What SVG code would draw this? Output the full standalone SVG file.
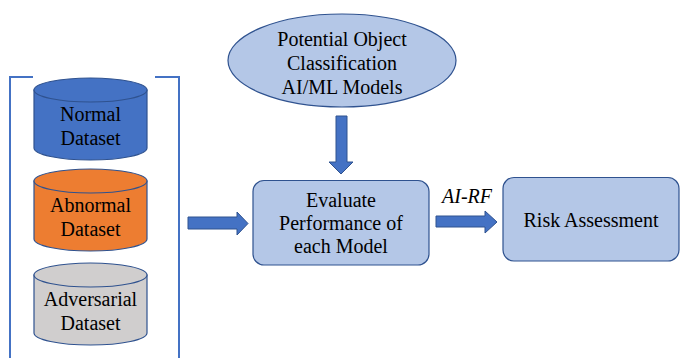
<svg xmlns="http://www.w3.org/2000/svg" width="683" height="358" viewBox="0 0 683 358">
<style>
text{font-family:'Liberation Serif','Times New Roman','DejaVu Serif',serif;font-size:20px;fill:#000;text-anchor:middle}
.ln{fill:#B4C7E7;stroke:#2F528F;stroke-width:1.2}
.arr{fill:#4472C4;stroke:#2F528F;stroke-width:1}
.cyl{stroke:#2F528F;stroke-width:1.2}
.br{fill:none;stroke:#4472C4;stroke-width:2}
</style>
<rect width="683" height="358" fill="#fff"/>
<g id="bracket">
<path class="br" d="M33,77 L10,77 L10,360"/>
<path class="br" d="M155,77 L179,77 L179,360"/>
</g>
<g id="normal">
<path class="cyl" fill="#4472C4" d="M34,90 L34,148 A56.5,12 0 0 0 147,148 L147,90 Z"/>
<ellipse class="cyl" fill="#4472C4" cx="90.5" cy="90" rx="56.5" ry="12"/>
<text x="90.5" y="121" font-family="Liberation Serif, serif">Normal</text>
<text x="90.5" y="145" font-family="Liberation Serif, serif">Dataset</text>
</g>
<g id="abnormal">
<path class="cyl" fill="#ED7D31" d="M34,181 L34,239 A56.5,12 0 0 0 147,239 L147,181 Z"/>
<ellipse class="cyl" fill="#ED7D31" cx="90.5" cy="181" rx="56.5" ry="12"/>
<text x="90.5" y="212">Abnormal</text>
<text x="90.5" y="236">Dataset</text>
</g>
<g id="adversarial">
<path class="cyl" fill="#D0CECE" d="M34,275 L34,333 A56.5,12 0 0 0 147,333 L147,275 Z"/>
<ellipse class="cyl" fill="#D0CECE" cx="90.5" cy="275" rx="56.5" ry="12"/>
<text x="90.5" y="306">Adversarial</text>
<text x="90.5" y="330">Dataset</text>
</g>
<g id="models">
<ellipse class="ln" cx="342" cy="60.5" rx="114" ry="46.5"/>
<text x="342" y="46">Potential Object</text>
<text x="342" y="70">Classification</text>
<text x="342" y="94">AI/ML Models</text>
</g>
<g id="evaluate">
<rect class="ln" x="253" y="180.5" width="176" height="84.5" rx="11"/>
<text x="341" y="207">Evaluate</text>
<text x="341" y="230">Performance of</text>
<text x="341" y="253">each Model</text>
</g>
<g id="risk">
<rect class="ln" x="503" y="177.5" width="176" height="83.5" rx="11"/>
<text x="591" y="227">Risk Assessment</text>
</g>
<g id="connectors">
<polygon class="arr" points="188,217 237,217 237,212 248,223.5 237,235 237,229 188,229"/>
<polygon class="arr" points="436,216 485,216 485,211 497,222 485,233 485,227 436,227"/>
<polygon class="arr" points="336,116 347,116 347,162 353,162 341,174 329,162 336,162"/>
<text x="467" y="203" font-style="italic">AI-RF</text>
</g>
</svg>
